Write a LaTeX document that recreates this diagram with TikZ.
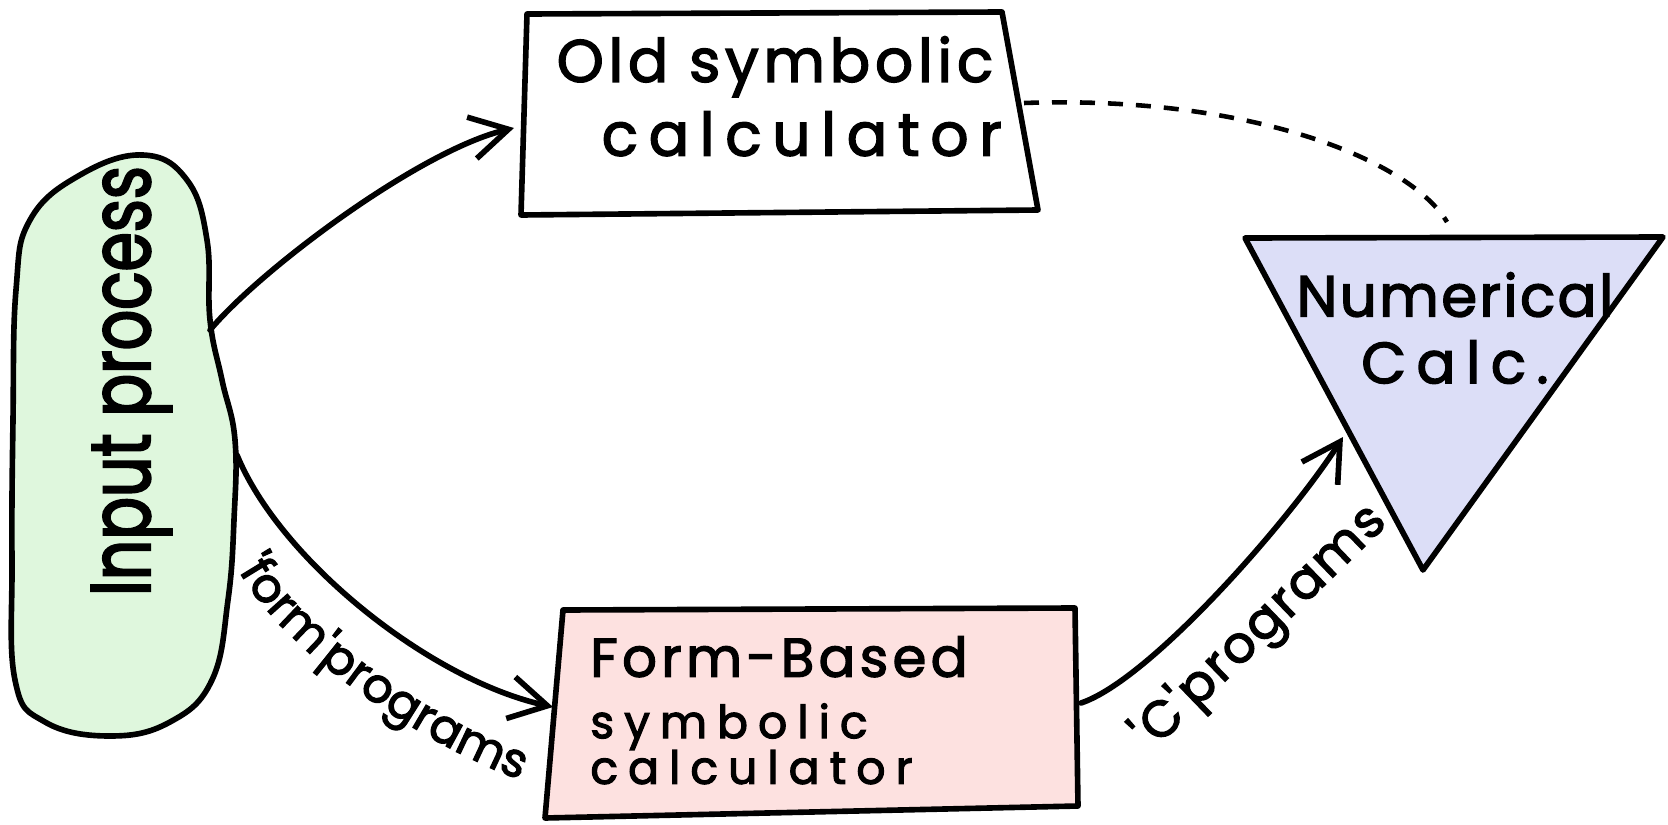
\documentclass[tikz,border=0pt]{standalone}
\usepackage{fontspec}
\newfontfamily\hand[FakeBold=2.5]{Poppins}
\usetikzlibrary{arrows.meta,decorations.text}
\definecolor{inpfill}{HTML}{DFF7DD}
\definecolor{formfill}{HTML}{FDE1E0}
\definecolor{numfill}{HTML}{DCDEF7}
\begin{document}
\begin{tikzpicture}[x=0.02cm,y=-0.02cm,
  outline/.style={draw=black,line width=3.2pt,line join=round},
  conn/.style={draw=black,line width=3.2pt,line cap=round,
    -{Straight Barb[length=0.75cm,width=0.85cm]}},
  dashconn/.style={draw=black,line width=2.6pt,dash pattern=on 0.3cm off 0.26cm},
  txt/.style={inner sep=0pt,text=black}
]
\useasboundingbox (0,0) rectangle (1668,825);
\fill[white] (0,0) rectangle (1668,825);

% input process blob
\path[outline,fill=inpfill] plot[smooth cycle,tension=0.7] coordinates {
  (143,155) (187,180) (207,240) (210,320) (222,380) (235,440) (234,520)
  (228,600) (212,680) (170,722) (110,736) (45,722) (15,680) (12,560)
  (13,420) (16,290) (30,220) (80,175)};
\node[txt,rotate=90,anchor=base,font=\hand\fontsize{48}{50}\selectfont\addfontfeatures{FakeStretch=0.75}] (inp) at (150,381) {Input process};

% old symbolic calculator
\path[outline,fill=white] (527,14) -- (1002,12) -- (1038,210) -- (521,215) -- cycle;
\node[txt,anchor=north,align=center,font=\hand\fontsize{34}{42}\selectfont] (old) at (775,36)
  {{\addfontfeatures{LetterSpace=8}Old symbolic}\\{\addfontfeatures{LetterSpace=18}\ \ calculator}};

% form-based symbolic calculator
\path[outline,fill=formfill] (563,610) -- (1075,608) -- (1078,806) -- (545,818) -- cycle;
\node[txt,anchor=north west,align=left,font=\hand\fontsize{26}{26}\selectfont] (form) at (590,636)
  {{\fontsize{31}{31}\selectfont\addfontfeatures{LetterSpace=8}Form-Based}\\[9pt]
   {\addfontfeatures{LetterSpace=22}symbolic}\\
   {\addfontfeatures{LetterSpace=22}calculator}};

% numerical calc
\path[outline,fill=numfill] (1245,238) -- (1663,237) -- (1423,570) -- cycle;
\node[txt,anchor=north,align=center,font=\hand\fontsize{33}{38}\selectfont] (num) at (1455,272)
  {{\addfontfeatures{LetterSpace=4}Numerical}\\{\addfontfeatures{LetterSpace=18}Calc.}};

% connector end points
\coordinate (inpA) at (210,330);
\coordinate (inpB) at (237,455);
\coordinate (oldL) at (514,128);
\coordinate (oldR) at (1024,103);
\coordinate (formL) at (553,707);
\coordinate (formR) at (1081,703);
\coordinate (numL) at (1343,437);
\coordinate (numT) at (1447,222);

\draw[conn] (inpA) .. controls (260,270) and (420,150) .. (oldL);
\draw[conn] (inpB) .. controls (280,560) and (430,680) .. (formL);
\draw[conn] (formR) .. controls (1150,680) and (1290,520) .. (numL);
\draw[dashconn] (oldR) .. controls (1250,95) and (1410,160) .. (numT);

% labels
\path[decorate,decoration={text along path,text align=center,
  text={|\hand\fontsize{27}{27}\selectfont|'form'programs}}]
  (234,561) .. controls (270,640) and (410,740) .. (524,781);
\node[txt,rotate=44,anchor=base,font=\hand\fontsize{29}{29}\selectfont\addfontfeatures{LetterSpace=4}] (clab) at (1270,638) {'C'programs};
\end{tikzpicture}
\end{document}
